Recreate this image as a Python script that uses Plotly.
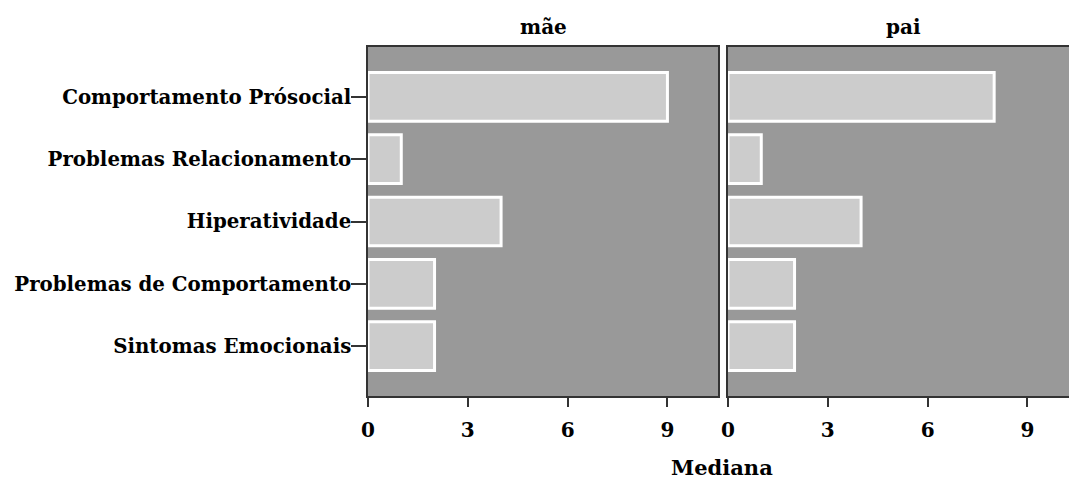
import plotly.graph_objects as go

categories = ["Comportamento Prósocial", "Problemas Relacionamento", "Hiperatividade",
              "Problemas de Comportamento", "Sintomas Emocionais"]
mae_values = [9, 1, 4, 2, 2]
pai_values = [8, 1, 4, 2, 2]
panel_titles = ["mãe", "pai"]
x_ticks = [0, 3, 6, 9]
x_title = "Mediana"

FONT = "DejaVu Serif"
W, H = 1069, 479
L, R, T, B = 368, 0, 47, 83
plot_w = W - L - R
plot_h = H - T - B
UNIT = 33.27  # pixels per x unit

def px_x(p):
    return (p - L) / plot_w

def px_y(p):
    return (H - B - p) / plot_h

fig = go.Figure()
for vals, xa, ya in [(mae_values, "x", "y"), (pai_values, "x2", "y2")]:
    fig.add_trace(go.Bar(
        x=vals, y=categories, orientation="h", xaxis=xa, yaxis=ya,
        width=0.78,
        marker=dict(color="#cccccc", line=dict(color="white", width=3)),
        showlegend=False, hoverinfo="x+y",
    ))

axis_line = "#333333"
xcommon = dict(tickvals=x_ticks, ticks="outside", ticklen=9, tickwidth=1.5,
               tickcolor=axis_line, showline=True, linecolor=axis_line, linewidth=1.5,
               mirror=True, showgrid=False, zeroline=False,
               tickfont=dict(family=FONT, size=20, color="black", weight="bold"),
               ticklabelstandoff=6)
fig.update_layout(
    width=W, height=H,
    margin=dict(l=L, r=R, t=T, b=B),
    paper_bgcolor="white", plot_bgcolor="#999999",
    bargap=0.2,
    xaxis=dict(domain=[0, px_x(718)], range=[0, 350 / UNIT], **xcommon),
    xaxis2=dict(domain=[px_x(728), 1], range=[0, (W - 728) / UNIT], anchor="y2", **xcommon),
    yaxis=dict(domain=[0, 1], categoryorder="array", categoryarray=categories,
               range=[4.8, -0.8], ticks="outside", ticklen=15, tickwidth=1.5,
               tickcolor=axis_line, showline=True, linecolor=axis_line, linewidth=1.5,
               mirror=True, showgrid=False, zeroline=False, ticklabelstandoff=-4,
               tickfont=dict(family=FONT, size=19.8, color="black", weight="bold")),
    yaxis2=dict(domain=[0, 1], anchor="x2", categoryorder="array", categoryarray=categories,
                range=[4.8, -0.8], showticklabels=False, ticks="",
                showline=True, linecolor=axis_line, linewidth=1.5, mirror=False,
                showgrid=False, zeroline=False),
)

annots = [
    dict(text=panel_titles[0], x=px_x(543), y=px_y(27), size=20),
    dict(text=panel_titles[1], x=px_x(903), y=px_y(27), size=20),
    dict(text=x_title, x=px_x(722), y=px_y(467), size=21),
]
for a in annots:
    fig.add_annotation(text=a["text"], x=a["x"], y=a["y"], xref="paper", yref="paper",
                       xanchor="center", yanchor="middle", showarrow=False,
                       font=dict(family=FONT, size=a["size"], color="black", weight="bold"))

fig.write_html(
    "out.html",
    config={"displayModeBar": False},
    post_script="document.body.style.margin='0';document.documentElement.style.overflow='hidden';",
)
